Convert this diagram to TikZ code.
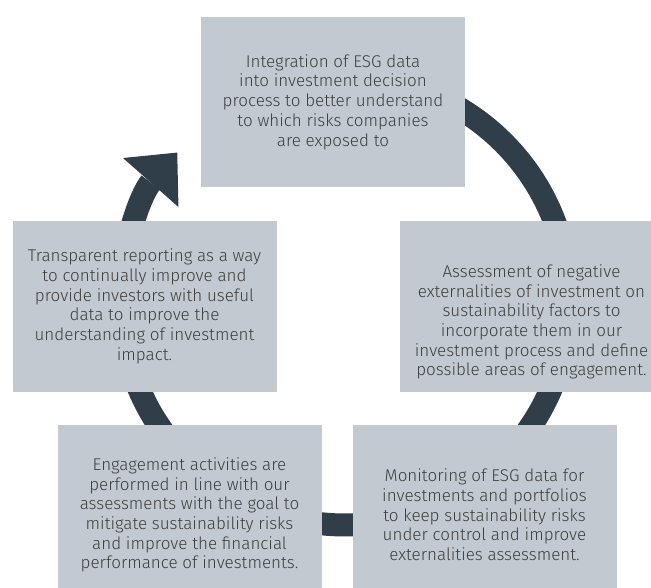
\documentclass[tikz,border=0pt]{standalone}
\usepackage{fontspec}
\setmainfont{Fira Sans Light}
\usetikzlibrary{arrows.meta}

\definecolor{panelgray}{HTML}{C2C9D0}
\definecolor{ringblue}{HTML}{2F3E49}
\definecolor{textgray}{HTML}{3E3E3E}

\begin{document}
\begin{tikzpicture}[
	note/.style = {text = textgray, align = center, inner sep = 0pt, font = \fontsize{12.1}{14}\selectfont},
	panel/.style = {note, rectangle, fill = panelgray, minimum width = 6.6cm},
	cycle/.style = {draw = ringblue, line width = 5.75mm, -{Triangle[length = 10mm, width = 18.5mm, line width = 0pt]}}
]
	\useasboundingbox (0,0) rectangle (16.275,14.7);
	\clip (0,0) rectangle (16.275,14.7);

	% the ring runs clockwise behind the panels
	\coordinate (O) at (8.625, 7.175);
	\draw[cycle] (O) ++(90:5.6) arc[start angle = 90, end angle = -221.5, radius = 5.6];

	\node (S1) at (8.325, 12.15)	[panel, minimum height = 4.25cm]	{Integration of ESG data\\ into investment decision\\ process to better understand\\ to which risks companies\\ are exposed to};
	\node (S2) at (13.2875, 7.0375)	[panel, minimum height = 4.275cm]	{};
	\node (S2text) at (13.2875, 6.65)	[note]	{Assessment of negative\\ externalities of investment on\\ sustainability factors to\\ incorporate them in our\\ investment process and define\\ possible areas of engagement.};
	\node (S3) at (12.1125, 1.825)	[panel, minimum height = 4.5cm]	{Monitoring of ESG data for\\ investments and portfolios\\ to keep sustainability risks\\ under control and improve\\ externalities assessment.};
	\node (S4) at (4.7375, 1.825)	[panel, minimum height = 4.5cm]	{Engagement activities are\\ performed in line with our\\ assessments with the goal to\\ mitigate sustainability risks\\ and improve the financial\\ performance of investments.};
	\node (S5) at (3.6125, 7.0375)	[panel, minimum height = 4.275cm]	{Transparent reporting as a way\\ to continually improve and\\ provide investors with useful\\ data to improve the\\ understanding of investment\\ impact.};
\end{tikzpicture}
\end{document}
